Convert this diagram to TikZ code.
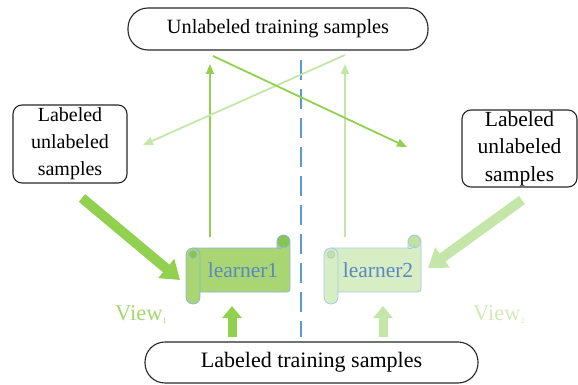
\documentclass[tikz,border=0pt]{standalone}
\usepackage{fontspec}
\setmainfont{Liberation Serif}
\usetikzlibrary{arrows.meta}
\definecolor{dgreen}{HTML}{92D050}
\definecolor{lgreen}{HTML}{C4E6A8}
\definecolor{sfillA}{HTML}{A9D672}
\definecolor{scurlA}{HTML}{86C64C}
\definecolor{sfillB}{HTML}{D7EDC4}
\definecolor{scurlB}{HTML}{C0E2A2}
\definecolor{slineA}{HTML}{8FB4DA}
\definecolor{slineB}{HTML}{A9C9E6}
\definecolor{ltext}{HTML}{5B87C2}
\definecolor{viewA}{HTML}{A3D86F}
\definecolor{viewB}{HTML}{D0EBB8}
\definecolor{dashblue}{HTML}{5B9BD5}
\newcommand\myscroll[6]{%
 \begin{scope}[shift={(#1,#2)}]
  \filldraw[fill=#4,draw=#6,line width=0.8pt]
    (7,13) -- (#3-13,13) -- (#3-13,6.5) arc[start angle=180,end angle=360,radius=6.5]
    -- (#3,54) arc[start angle=0,end angle=90,radius=3] -- (7,57) -- cycle;
  \filldraw[fill=#5,draw=#6,line width=0.6pt] (#3-6.5,6.5) circle (6.2);
  \draw[#6,line width=0.6pt] (#3-6.5,9.5) -- (#3-6.5,13) (#3-9.5,13) -- (#3-13,13);
  \filldraw[fill=#4,draw=#6,line width=0.8pt,rounded corners=6.9pt] (0,13) rectangle (14,69);
  \filldraw[fill=#5,draw=#6,line width=0.6pt] (7,19.5) circle (3.8);
 \end{scope}}
\begin{document}
\begin{tikzpicture}[x=1pt,y=-1pt,
  roundbox/.style={draw=black!85,line width=1.1pt,rounded corners=20pt,inner sep=0pt},
  sidebox/.style={draw=black!85,line width=1.1pt,rounded corners=9pt,inner sep=0pt,align=center},
  thinarrow/.style={line width=1.8pt,-{Triangle[length=10pt,width=8pt]}},
  fatarrow/.style={line width=10pt,-{Triangle[length=18pt,width=24pt]}},
  uparrow/.style={line width=9pt,-{Triangle[length=12pt,width=19pt]}},
  learnertext/.style={text=ltext,inner sep=0pt,font=\fontsize{21.5}{26}\selectfont},
  viewtext/.style={inner sep=0pt,anchor=base west,font=\fontsize{22.5}{26}\selectfont}]
\useasboundingbox (0,0) rectangle (578,385);

% boxes
\node[roundbox,minimum width=300pt,minimum height=42pt,font=\fontsize{20.3}{24}\selectfont] (utop) at (278,29) {Unlabeled training samples};
\node[roundbox,minimum width=333pt,minimum height=41pt,font=\fontsize{22}{26}\selectfont] (lbot) at (311.5,362.5) {Labeled training samples};
\node[sidebox,minimum width=114pt,minimum height=78pt,font=\fontsize{20}{27}\selectfont] (lbox) at (70,144) {Labeled\\unlabeled\\samples};
\node[sidebox,minimum width=115pt,minimum height=77pt,font=\fontsize{21.5}{27.5}\selectfont] (rbox) at (519.5,148.5) {Labeled\\unlabeled\\samples};

% scrolls
\myscroll{186}{235}{104}{sfillA}{scurlA}{slineA}
\myscroll{324}{235}{97}{sfillB}{scurlB}{slineB}
\node[learnertext] (learner1) at (243,270) {learner1};
\node[learnertext] (learner2) at (378,270) {learner2};

% views
\node[viewtext,text=viewA] (view1) at (115,320) {View\raisebox{-3pt}{\fontsize{8}{8}\selectfont 1}};
\node[viewtext,text=viewB] (view2) at (473,320) {View\raisebox{-3pt}{\fontsize{8}{8}\selectfont 2}};

% dashed divider
\coordinate (dtop) at (300.5,60);
\coordinate (dbot) at (300.5,337);
\draw[dashblue,line width=2pt,dash pattern=on 20pt off 9pt] (dtop) -- (dbot);

% coordinates for connector ends
\coordinate (l1up) at (210,237);
\coordinate (l1tip) at (210,64);
\coordinate (l2up) at (345,237);
\coordinate (l2tip) at (345,64);
\coordinate (xa) at (213,56);
\coordinate (xatip) at (407,147);
\coordinate (xb) at (345,55);
\coordinate (xbtip) at (143,145);
\coordinate (fa) at (82,198);
\coordinate (fatip) at (180,280);
\coordinate (fb) at (522,200);
\coordinate (fbtip) at (428,268);
\coordinate (ua) at (232,337);
\coordinate (uatip) at (232,306);
\coordinate (ub) at (383,337);
\coordinate (ubtip) at (383,306);

% thin arrows
\draw[thinarrow,dgreen] (l1up) -- (l1tip);
\draw[thinarrow,lgreen] (l2up) -- (l2tip);
\draw[thinarrow,lgreen] (xb) -- (xbtip);
\draw[thinarrow,dgreen] (xa) -- (xatip);

% fat arrows
\draw[fatarrow,dgreen] (fa) -- (fatip);
\draw[fatarrow,lgreen] (fb) -- (fbtip);
\draw[uparrow,dgreen] (ua) -- (uatip);
\draw[uparrow,lgreen] (ub) -- (ubtip);
\end{tikzpicture}
\end{document}
